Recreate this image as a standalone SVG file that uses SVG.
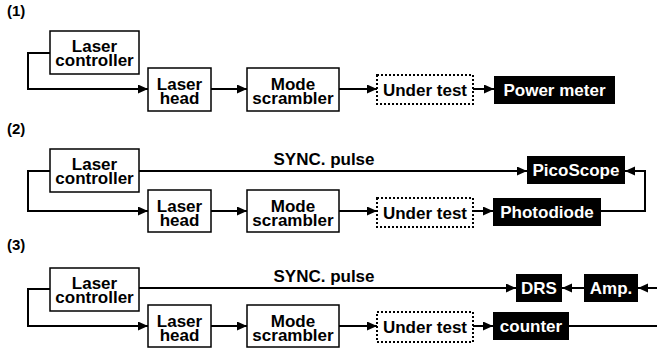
<svg xmlns="http://www.w3.org/2000/svg" width="657" height="356" viewBox="0 0 657 356">
<defs>
<marker id="ah" markerUnits="userSpaceOnUse" markerWidth="11" markerHeight="10" refX="10" refY="4.5" orient="auto">
<path d="M0,0 L10,4.5 L0,9 z" fill="#000"/>
</marker>
<style>
text{font-family:"Liberation Sans",Arial,sans-serif;font-weight:bold;font-size:17px;text-anchor:middle;fill:#000}
.lbl{font-size:15px;text-anchor:start}
.box{fill:#fff;stroke:#000;stroke-width:1.5}
.dot{fill:#fff;stroke:#000;stroke-width:2;stroke-dasharray:2 2}
.blk{fill:#000;stroke:none}
.blk+text{fill:#fff}
.w{fill:#fff}
.c{fill:none;stroke:#000;stroke-width:2}
.a{marker-end:url(#ah)}
</style>
</defs>
<rect width="657" height="356" fill="#fff"/>
<text class="lbl" x="7" y="16">(1)</text>
<text class="lbl" x="7" y="134">(2)</text>
<text class="lbl" x="7" y="250">(3)</text>
<text x="324" y="165">SYNC. pulse</text>
<text x="324" y="282">SYNC. pulse</text>
<g id="connectors">
<path class="c a" d="M50,53 H28 V89 H148"/>
<path class="c a" d="M211,89 H247"/>
<path class="c a" d="M339,89 H377"/>
<path class="c a" d="M473,89 H494"/>
<path class="c a" d="M50,171 H28 V211 H148"/>
<path class="c a" d="M211,211 H247"/>
<path class="c a" d="M339,211 H377"/>
<path class="c a" d="M473,211 H493"/>
<path class="c a" d="M139,171 H527"/>
<path class="c a" d="M601,211 H645 V171 H625"/>
<path class="c a" d="M50,289 H28 V326 H148"/>
<path class="c a" d="M211,326 H247"/>
<path class="c a" d="M339,326 H377"/>
<path class="c a" d="M473,326 H493"/>
<path class="c a" d="M139,288 H516"/>
<path class="c a" d="M584,288 H562"/>
<path class="c a" d="M657,288 H638"/>
<path class="c" d="M569,326 H657"/>
</g>
<g id="p1-controller"><rect class="box" x="50" y="31" width="89" height="43"/><text x="94.5" y="52">Laser</text><text x="94.5" y="66">controller</text></g>
<g id="p1-head"><rect class="box" x="148" y="68" width="63" height="43"/><text x="179.5" y="90">Laser</text><text x="179.5" y="104">head</text></g>
<g id="p1-mode"><rect class="box" x="247" y="68" width="92" height="43"/><text x="293" y="90">Mode</text><text x="293" y="104">scrambler</text></g>
<g id="p1-test"><rect class="dot" x="377" y="75" width="96" height="29"/><text x="425" y="96">Under test</text></g>
<g id="p1-power"><rect class="blk" x="494" y="76" width="121" height="28"/><text class="w" x="554.5" y="96">Power meter</text></g>

<g id="p2-controller"><rect class="box" x="50" y="149" width="89" height="43"/><text x="94.5" y="170">Laser</text><text x="94.5" y="184">controller</text></g>
<g id="p2-head"><rect class="box" x="148" y="190" width="63" height="42"/><text x="179.5" y="212">Laser</text><text x="179.5" y="226">head</text></g>
<g id="p2-mode"><rect class="box" x="247" y="190" width="92" height="42"/><text x="293" y="212">Mode</text><text x="293" y="226">scrambler</text></g>
<g id="p2-test"><rect class="dot" x="377" y="198" width="96" height="29"/><text x="425" y="219">Under test</text></g>
<g id="p2-photodiode"><rect class="blk" x="493" y="198" width="108" height="28"/><text class="w" x="547" y="218">Photodiode</text></g>
<g id="p2-picoscope"><rect class="blk" x="527" y="156" width="98" height="28"/><text class="w" x="576" y="176">PicoScope</text></g>

<g id="p3-controller"><rect class="box" x="50" y="268" width="89" height="43"/><text x="94.5" y="289">Laser</text><text x="94.5" y="303">controller</text></g>
<g id="p3-head"><rect class="box" x="148" y="305" width="63" height="42"/><text x="179.5" y="327">Laser</text><text x="179.5" y="341">head</text></g>
<g id="p3-mode"><rect class="box" x="247" y="305" width="92" height="42"/><text x="293" y="327">Mode</text><text x="293" y="341">scrambler</text></g>
<g id="p3-test"><rect class="dot" x="377" y="312" width="96" height="30"/><text x="425" y="333">Under test</text></g>
<g id="p3-counter"><rect class="blk" x="493" y="312" width="76" height="28"/><text class="w" x="531" y="332">counter</text></g>
<g id="p3-drs"><rect class="blk" x="516" y="274" width="46" height="28"/><text class="w" x="539" y="294">DRS</text></g>
<g id="p3-amp"><rect class="blk" x="584" y="274" width="54" height="28"/><text class="w" x="611" y="294">Amp.</text></g>
</svg>
